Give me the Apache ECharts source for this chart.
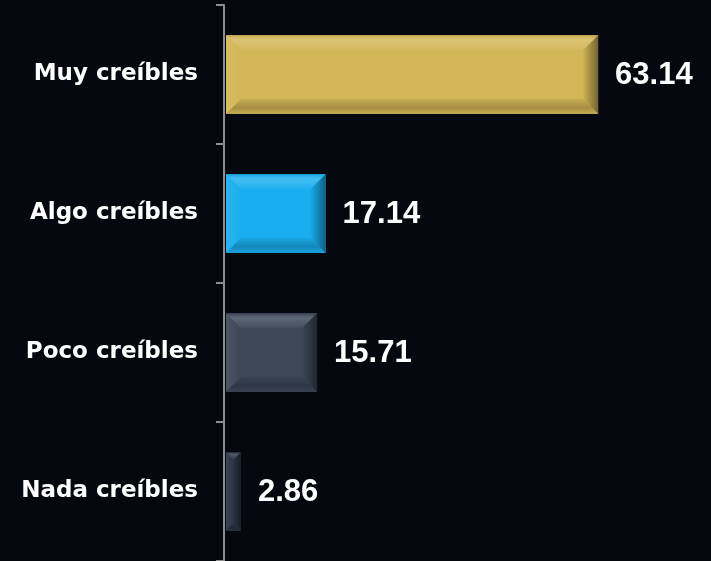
<!DOCTYPE html>
<html><head><meta charset="utf-8">
<script src="https://cdn.jsdelivr.net/npm/echarts@6/dist/echarts.min.js"></script>
<style>html,body{margin:0;padding:0;background:#05080f}#c{width:711px;height:561px}</style>
</head><body><div id="c"></div>
<script>
const categories = ['Muy creíbles', 'Algo creíbles', 'Poco creíbles', 'Nada creíbles'];
const values = [63.14, 17.14, 15.71, 2.86];
const barColors = ['#D3B657', '#1AAEEE', '#3C4757', '#2A3446'];

function shade(hex, f) {
  const n = parseInt(hex.slice(1), 16);
  let r = (n >> 16) & 255, g = (n >> 8) & 255, b = n & 255;
  const t = f < 0 ? 0 : 255, p = Math.abs(f);
  r = Math.round(r + (t - r) * p); g = Math.round(g + (t - g) * p); b = Math.round(b + (t - b) * p);
  return 'rgb(' + r + ',' + g + ',' + b + ')';
}
const LG = echarts.graphic.LinearGradient;

function renderItem(params, api) {
  const v = api.value(0), ci = api.value(1);
  const s = api.coord([0, ci]);
  const e = api.coord([v, ci]);
  const h = api.size([0, 1])[1] * 0.565;
  const x0 = s[0] + 2, x1 = e[0], y0 = e[1] - h / 2, y1 = e[1] + h / 2;
  const w = x1 - x0;
  const b = Math.min(15, w / 2, h / 2);
  const c = barColors[ci];
  return {
    type: 'group',
    children: [
      { type: 'rect', shape: { x: x0, y: y0, width: w, height: h }, style: { fill: c } },
      { type: 'polygon', shape: { points: [[x0, y0], [x1, y0], [x1 - b, y0 + b], [x0 + b, y0 + b]] },
        style: { fill: new LG(0, 0, 0, 1, [{ offset: 0, color: shade(c, -0.05) }, { offset: 0.3, color: shade(c, 0.18) }, { offset: 1, color: shade(c, 0.03) }]) } },
      { type: 'polygon', shape: { points: [[x0, y1], [x1, y1], [x1 - b, y1 - b], [x0 + b, y1 - b]] },
        style: { fill: new LG(0, 0, 0, 1, [{ offset: 0, color: shade(c, -0.05) }, { offset: 0.6, color: shade(c, -0.22) }, { offset: 1, color: shade(c, -0.05) }]) } },
      { type: 'polygon', shape: { points: [[x0, y0], [x0 + b, y0 + b], [x0 + b, y1 - b], [x0, y1]] },
        style: { fill: new LG(0, 0, 1, 0, [{ offset: 0, color: shade(c, 0.08) }, { offset: 1, color: shade(c, 0.0) }]) } },
      { type: 'polygon', shape: { points: [[x1, y0], [x1 - b, y0 + b], [x1 - b, y1 - b], [x1, y1]] },
        style: { fill: new LG(0, 0, 1, 0, [{ offset: 0, color: shade(c, -0.02) }, { offset: 1, color: shade(c, -0.45) }]) } },
      { type: 'text', x: x1 + 17, y: e[1] + 1,
        style: { text: v.toFixed(2), fill: '#ffffff', font: 'bold 31px "Liberation Sans", Arial, sans-serif', align: 'left', verticalAlign: 'middle' } }
    ]
  };
}

const chart = echarts.init(document.getElementById('c'));
chart.setOption({
  backgroundColor: '#05080f',
  animation: false,
  grid: { left: 224, right: 13, top: 5, bottom: 0 },
  xAxis: { type: 'value', min: 0, max: 80, show: false },
  yAxis: {
    type: 'category', inverse: true, data: categories,
    axisLine: { show: true, lineStyle: { color: '#8e8e8e', width: 2 } },
    axisTick: { show: true, alignWithLabel: false, inside: false, length: 8, lineStyle: { color: '#8e8e8e', width: 2 } },
    axisLabel: { margin: 26, color: '#ffffff', fontFamily: '"DejaVu Sans", sans-serif', fontWeight: 'bold', fontSize: 23 }
  },
  series: [{
    type: 'custom', renderItem: renderItem,
    encode: { x: 0, y: 1 },
    data: values.map((v, i) => [v, i])
  }]
});
</script></body></html>
